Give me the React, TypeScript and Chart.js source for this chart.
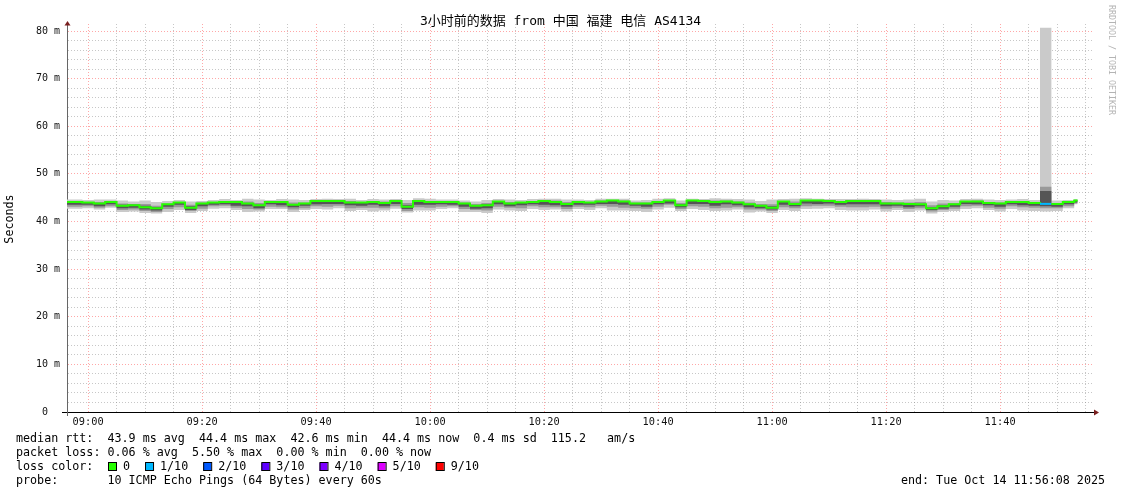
import React, { useEffect, useRef } from "react";
import { Chart, registerables } from "chart.js";

Chart.register(...registerables);

const W = 1121;
const H = 494;

// step start times, minutes after 09:00 (each value holds until the next step)
const minutes = [
  -3.7, -1, 1, 3, 5, 7, 9, 11, 13, 15, 17, 19, 21, 23, 25, 27, 29, 31, 33, 35,
  37, 39, 41, 43, 45, 47, 49, 51, 53, 55, 57, 59, 61, 63, 65, 67, 69, 71, 73, 75,
  77, 79, 81, 83, 85, 87, 89, 91, 93, 95, 97, 99, 101, 103, 105, 107, 109, 111, 113, 115,
  117, 119, 121, 123, 125, 127, 129, 131, 133, 135, 137, 139, 141, 143, 145, 147, 149, 151, 153, 155,
  157, 159, 161, 163, 165, 167, 169, 171, 173,
];
const dataEndMinute = 173.6;
const axisStartMinute = -3.7;
const axisEndMinute = 176.3;

const medianRtt = [
  44.1, 44.0, 43.8, 44.1, 43.3, 43.4, 43.0, 42.8, 43.6, 44.0,
  42.9, 43.8, 44.0, 44.1, 44.1, 43.8, 43.4, 44.1, 44.1, 43.5,
  43.8, 44.3, 44.3, 44.3, 44.0, 44.0, 44.1, 43.9, 44.3, 43.1,
  44.3, 44.1, 44.1, 44.1, 43.8, 43.3, 43.4, 44.2, 43.8, 44.0,
  44.1, 44.3, 44.1, 43.7, 44.1, 44.0, 44.2, 44.4, 44.2, 43.8,
  43.8, 44.1, 44.4, 43.4, 44.4, 44.3, 44.1, 44.2, 44.0, 43.6,
  43.3, 42.9, 44.2, 43.7, 44.4, 44.4, 44.3, 44.1, 44.3, 44.3,
  44.3, 43.8, 43.8, 43.7, 43.6, 42.8, 43.2, 43.6, 44.2, 44.2,
  43.9, 43.8, 44.1, 44.1, 43.9, 43.7, 43.7, 44.1, 44.4,
];

const lossTenths = [
  0, 0, 0, 0, 0, 0, 0, 0, 0, 0,
  0, 0, 0, 0, 0, 0, 0, 0, 0, 0,
  0, 0, 0, 0, 0, 0, 0, 0, 0, 0,
  0, 0, 0, 0, 0, 0, 0, 0, 0, 0,
  0, 0, 0, 0, 0, 0, 0, 0, 0, 0,
  0, 0, 0, 0, 0, 0, 0, 0, 0, 0,
  0, 0, 0, 0, 0, 0, 0, 0, 0, 0,
  0, 0, 0, 0, 0, 0, 0, 0, 0, 0,
  0, 0, 0, 0, 0, 1, 0, 0, 0,
];

const pingMax = [
  44.6, 44.5, 44.6, 44.6, 44.4, 44.2, 44.4, 44.1, 44.3, 44.5,
  44.2, 44.3, 44.5, 44.7, 44.5, 44.8, 44.6, 44.5, 44.7, 44.6,
  44.5, 44.7, 44.8, 44.7, 44.8, 44.5, 44.7, 44.6, 44.7, 44.5,
  44.9, 44.8, 44.6, 44.6, 44.4, 44.2, 44.5, 44.7, 44.6, 44.5,
  44.7, 44.8, 44.8, 44.6, 44.6, 44.5, 44.8, 44.8, 44.8, 44.4,
  44.5, 44.8, 44.9, 44.4, 44.8, 44.7, 44.9, 44.8, 44.7, 44.6,
  44.3, 44.6, 44.7, 44.8, 44.9, 44.8, 44.7, 44.7, 44.7, 44.8,
  44.7, 44.6, 44.5, 44.6, 44.8, 44.2, 44.5, 44.4, 44.7, 44.8,
  44.6, 44.5, 44.6, 44.7, 44.5, 80.7, 44.4, 44.5, 44.7,
];

const pingMin = [
  42.7, 42.8, 42.5, 42.9, 42.0, 42.1, 41.8, 41.7, 42.0, 42.4,
  41.8, 42.2, 42.7, 42.8, 42.4, 42.0, 42.1, 42.6, 42.6, 42.0,
  42.4, 42.6, 42.5, 42.8, 42.2, 42.4, 42.1, 42.3, 42.7, 41.9,
  42.3, 42.3, 42.6, 42.8, 42.0, 42.0, 41.8, 42.5, 42.3, 42.2,
  42.6, 42.4, 42.5, 42.1, 42.6, 42.4, 42.8, 42.3, 42.3, 42.2,
  42.0, 42.5, 42.9, 42.2, 42.6, 42.4, 42.2, 42.3, 42.5, 41.9,
  42.1, 41.8, 42.4, 42.2, 42.6, 42.7, 42.8, 42.4, 42.3, 42.3,
  42.5, 42.1, 42.4, 42.0, 42.3, 41.7, 42.0, 42.2, 42.6, 42.8,
  42.4, 42.1, 42.6, 42.3, 42.2, 42.1, 42.2, 42.8, 43.6,
];

const midHigh = [
  44.2, 44.1, 44.1, 44.2, 43.8, 43.7, 43.7, 43.3, 43.8, 44.1,
  43.5, 44.0, 44.1, 44.3, 44.2, 44.2, 43.9, 44.2, 44.3, 44.0,
  44.0, 44.4, 44.4, 44.4, 44.3, 44.1, 44.2, 44.2, 44.4, 43.9,
  44.5, 44.3, 44.2, 44.2, 44.0, 43.7, 43.9, 44.3, 44.1, 44.1,
  44.3, 44.4, 44.4, 44.1, 44.2, 44.1, 44.4, 44.5, 44.4, 44.0,
  44.0, 44.3, 44.5, 43.9, 44.5, 44.4, 44.4, 44.4, 44.2, 44.0,
  43.7, 43.6, 44.3, 44.2, 44.5, 44.5, 44.4, 44.3, 44.4, 44.4,
  44.4, 44.1, 44.0, 44.0, 44.1, 43.4, 43.8, 43.9, 44.3, 44.4,
  44.1, 44.0, 44.2, 44.3, 44.1, 47.3, 43.9, 44.2, 44.5,
];

const midLow = [
  43.1, 43.2, 42.9, 43.2, 42.4, 42.5, 42.2, 42.0, 42.6, 43.0,
  42.2, 42.7, 43.2, 43.3, 42.9, 42.6, 42.5, 43.1, 43.0, 42.5,
  42.8, 43.2, 43.1, 43.3, 42.8, 42.9, 42.9, 42.8, 43.2, 42.2,
  43.0, 42.9, 43.1, 43.2, 42.6, 42.4, 42.3, 43.1, 42.9, 42.8,
  43.2, 43.0, 43.0, 42.6, 43.1, 43.0, 43.3, 43.1, 42.9, 42.8,
  42.7, 43.1, 43.5, 42.6, 43.2, 43.1, 42.8, 42.9, 43.0, 42.5,
  42.5, 42.2, 43.0, 42.8, 43.2, 43.3, 43.3, 43.1, 43.0, 43.0,
  43.1, 42.7, 42.9, 42.6, 42.8, 42.1, 42.4, 42.7, 43.2, 43.3,
  42.9, 42.7, 43.2, 43.0, 42.9, 42.8, 42.8, 43.2, 43.8,
];

const coreHigh = [
  44.1, 44.0, 43.9, 44.1, 43.5, 43.5, 43.3, 43.0, 43.6, 44.0,
  43.2, 43.8, 44.0, 44.1, 44.1, 43.9, 43.5, 44.1, 44.1, 43.7,
  43.8, 44.3, 44.3, 44.3, 44.1, 44.0, 44.1, 44.0, 44.3, 43.4,
  44.3, 44.1, 44.1, 44.1, 43.8, 43.4, 43.6, 44.2, 43.9, 44.0,
  44.1, 44.3, 44.2, 43.8, 44.1, 44.0, 44.2, 44.4, 44.2, 43.8,
  43.8, 44.1, 44.4, 43.6, 44.4, 44.3, 44.2, 44.2, 44.0, 43.7,
  43.4, 43.2, 44.2, 43.8, 44.4, 44.4, 44.3, 44.1, 44.3, 44.3,
  44.3, 43.9, 43.8, 43.8, 43.7, 43.0, 43.4, 43.6, 44.2, 44.2,
  43.9, 43.8, 44.1, 44.1, 43.9, 46.4, 43.7, 44.1, 44.4,
];

const coreLow = [
  43.5, 43.5, 43.2, 43.6, 42.8, 42.9, 42.5, 42.3, 43.1, 43.5,
  42.4, 43.2, 43.5, 43.6, 43.3, 43.2, 42.8, 43.6, 43.4, 43.0,
  43.3, 43.6, 43.7, 43.7, 43.4, 43.3, 43.5, 43.2, 43.7, 42.6,
  43.5, 43.5, 43.6, 43.5, 43.1, 42.7, 42.8, 43.6, 43.2, 43.4,
  43.6, 43.5, 43.4, 43.1, 43.5, 43.5, 43.7, 43.7, 43.5, 43.3,
  43.1, 43.6, 43.8, 43.0, 43.7, 43.7, 43.3, 43.6, 43.4, 43.0,
  42.8, 42.5, 43.5, 43.2, 43.8, 43.7, 43.8, 43.5, 43.6, 43.6,
  43.6, 43.2, 43.3, 43.0, 43.2, 42.4, 42.7, 43.1, 43.7, 43.6,
  43.4, 43.1, 43.6, 43.4, 43.3, 43.2, 43.1, 43.6, 44.0,
];

const timeTicks = [0, 20, 40, 60, 80, 100, 120, 140, 160];
const timeTickLabels = ["09:00", "09:20", "09:40", "10:00", "10:20", "10:40", "11:00", "11:20", "11:40"];
const timeMinorStep = 5;
const rttTicks = [0, 10, 20, 30, 40, 50, 60, 70, 80];
const rttTickLabels = ["0  ", "10 m", "20 m", "30 m", "40 m", "50 m", "60 m", "70 m", "80 m"];
const rttMinorStep = 2;

const titleText = "3小时前的数据 from 中国 福建 电信 AS4134";
const yTitle = "Seconds";
const watermark = "RRDTOOL / TOBI OETIKER";
const statLines = [
  "median rtt:  43.9 ms avg  44.4 ms max  42.6 ms min  44.4 ms now  0.4 ms sd  115.2   am/s",
  "packet loss: 0.06 % avg  5.50 % max  0.00 % min  0.00 % now",
];
const lossLegendTitle = "loss color:";
const lossKeys = [0, 1, 2, 3, 4, 5, 9];
const lossLabels = ["0", "1/10", "2/10", "3/10", "4/10", "5/10", "9/10"];
const lossPalette: Record<number, string> = {
  0: "#26ff00",
  1: "#00b8ff",
  2: "#0059ff",
  3: "#5e00ff",
  4: "#7e00ff",
  5: "#dd00ff",
  9: "#ff0000",
};
const probeLine = "probe:       10 ICMP Echo Pings (64 Bytes) every 60s";
const endLine = "end: Tue Oct 14 11:56:08 2025";

const MONO = '"DejaVu Sans Mono", "Liberation Mono", monospace';
const LEGEND_FONT = `11.7px ${MONO}`;

const MAJOR_GRID = "rgba(255,60,60,0.45)";
const MINOR_GRID = "rgba(130,130,130,0.45)";

function toPoints(vals: number[]) {
  const pts = minutes.map((m, i) => ({ x: m, y: vals[i] }));
  pts.push({ x: dataEndMinute, y: vals[vals.length - 1] });
  return pts;
}

function lossColorAt(i: number) {
  const l = lossTenths[Math.min(i, lossTenths.length - 1)];
  return lossPalette[l] || lossPalette[0];
}

function gridTicks(min: number, max: number, step: number) {
  const out: { value: number }[] = [];
  for (let v = Math.ceil(min / step) * step; v <= max + 1e-9; v += step) out.push({ value: v });
  return out;
}

const decorPlugin = {
  id: "smokeDecor",
  afterDraw(chart: any) {
    const ctx = chart.ctx as CanvasRenderingContext2D;
    const { left, right, top, bottom } = chart.chartArea;
    ctx.save();

    // axis extensions + arrows
    ctx.strokeStyle = "#000";
    ctx.lineWidth = 1;
    ctx.beginPath();
    ctx.moveTo(left - 5, Math.round(bottom) + 0.5);
    ctx.lineTo(right + 2, Math.round(bottom) + 0.5);
    ctx.stroke();
    ctx.strokeStyle = "#666";
    ctx.beginPath();
    ctx.moveTo(Math.round(left) + 0.5, bottom);
    ctx.lineTo(Math.round(left) + 0.5, bottom + 4);
    ctx.stroke();

    ctx.fillStyle = "#7a1f1f";
    ctx.beginPath();
    ctx.moveTo(left - 2.5, top + 1.5);
    ctx.lineTo(left + 3.5, top + 1.5);
    ctx.lineTo(left + 0.5, top - 3);
    ctx.closePath();
    ctx.fill();
    ctx.beginPath();
    ctx.moveTo(right + 1, bottom - 2.5);
    ctx.lineTo(right + 1, bottom + 3.5);
    ctx.lineTo(right + 6, bottom + 0.5);
    ctx.closePath();
    ctx.fill();

    // title
    ctx.fillStyle = "#000";
    ctx.font = `13px ${MONO}, "Noto Sans CJK SC"`;
    ctx.textAlign = "center";
    ctx.textBaseline = "middle";
    ctx.fillText(titleText, W / 2, 22);

    // y axis title
    ctx.save();
    ctx.font = LEGEND_FONT;
    ctx.translate(10, 219);
    ctx.rotate(-Math.PI / 2);
    ctx.fillText(yTitle, 0, 0);
    ctx.restore();

    // watermark
    ctx.save();
    ctx.font = `8.3px ${MONO}`;
    ctx.fillStyle = "#b4b4b4";
    ctx.textAlign = "left";
    ctx.translate(1111, 5);
    ctx.rotate(Math.PI / 2);
    ctx.fillText(watermark, 0, 0);
    ctx.restore();

    // legend
    ctx.font = LEGEND_FONT;
    ctx.textAlign = "left";
    ctx.textBaseline = "middle";
    ctx.fillStyle = "#000";
    const lx = 16;
    ctx.fillText(statLines[0], lx, 439);
    ctx.fillText(statLines[1], lx, 453);
    ctx.fillText(lossLegendTitle, lx, 467);
    let bx = 108;
    lossKeys.forEach((k, i) => {
      ctx.fillStyle = lossPalette[k];
      ctx.fillRect(bx, 463, 8, 8);
      ctx.strokeStyle = "#000";
      ctx.lineWidth = 1;
      ctx.strokeRect(bx + 0.5, 462.5, 8, 8);
      ctx.fillStyle = "#000";
      ctx.fillText(lossLabels[i], bx + 15, 467);
      bx += 15 + ctx.measureText(lossLabels[i]).width + 15;
    });
    ctx.fillText(probeLine, lx, 481);
    ctx.textAlign = "right";
    ctx.fillText(endLine, 1105, 481);

    ctx.restore();
  },
};

export default function App() {
  const ref = useRef<HTMLCanvasElement | null>(null);

  useEffect(() => {
    if (!ref.current) return;
    const band = (vals: number[], color: string, order: number, fill: any) => ({
      data: toPoints(vals),
      borderWidth: 0,
      borderColor: color,
      backgroundColor: color,
      pointRadius: 0,
      stepped: true,
      fill,
      order,
    });
    const chart = new Chart(ref.current, {
      type: "line",
      data: {
        datasets: [
          band(pingMin, "#cacaca", 3, false),
          band(pingMax, "#cacaca", 3, 0),
          band(midLow, "#999999", 2, false),
          band(midHigh, "#999999", 2, 2),
          band(coreLow, "#555555", 1, false),
          band(coreHigh, "#555555", 1, 4),
          {
            data: toPoints(medianRtt),
            borderWidth: 2,
            borderColor: lossPalette[0],
            pointRadius: 0,
            stepped: true,
            fill: false,
            order: 0,
            segment: {
              borderColor: (c: any) => lossColorAt(c.p0DataIndex),
            },
          } as any,
        ],
      },
      options: {
        animation: false,
        responsive: false,
        maintainAspectRatio: false,
        layout: { padding: { left: 0, right: 28, top: 24, bottom: 0 } },
        plugins: {
          legend: { display: false },
          tooltip: { enabled: false },
          title: { display: false },
        },
        scales: {
          x: {
            type: "linear",
            min: axisStartMinute,
            max: axisEndMinute,
            afterBuildTicks: (s: any) => {
              s.ticks = gridTicks(axisStartMinute, axisEndMinute, timeMinorStep);
            },
            afterFit: (s: any) => {
              s.height = 82;
            },
            grid: {
              drawTicks: false,
              lineWidth: 1,
              color: (c: any) =>
                c.tick && timeTicks.includes(c.tick.value) ? MAJOR_GRID : MINOR_GRID,
            },
            border: { display: true, color: "#000", width: 1, dash: [1, 2] },
            ticks: {
              autoSkip: false,
              maxRotation: 0,
              minRotation: 0,
              padding: 4,
              color: "#111",
              font: { family: MONO, size: 10.3 },
              callback: (v: any) => {
                const i = timeTicks.indexOf(Math.round(Number(v) * 1000) / 1000);
                return i >= 0 ? timeTickLabels[i] : "";
              },
            },
          },
          y: {
            type: "linear",
            min: 0,
            max: 81.47,
            afterBuildTicks: (s: any) => {
              s.ticks = gridTicks(0, 80, rttMinorStep);
            },
            afterFit: (s: any) => {
              s.width = 67;
            },
            grid: {
              drawTicks: false,
              lineWidth: 1,
              color: (c: any) =>
                c.tick && rttTicks.includes(c.tick.value) ? MAJOR_GRID : MINOR_GRID,
            },
            border: { display: true, color: "#666", width: 1, dash: [1, 2] },
            ticks: {
              autoSkip: false,
              padding: 7,
              color: "#111",
              font: { family: MONO, size: 10 },
              callback: (v: any) => {
                const i = rttTicks.indexOf(Number(v));
                return i >= 0 ? rttTickLabels[i] : "";
              },
            },
          },
        },
      },
      plugins: [decorPlugin],
    } as any);
    return () => chart.destroy();
  }, []);

  return (
    <div style={{ position: "absolute", left: 0, top: 0, width: W, height: H, background: "#fff" }}>
      <canvas ref={ref} width={W} height={H} style={{ width: W, height: H, display: "block" }} />
    </div>
  );
}
